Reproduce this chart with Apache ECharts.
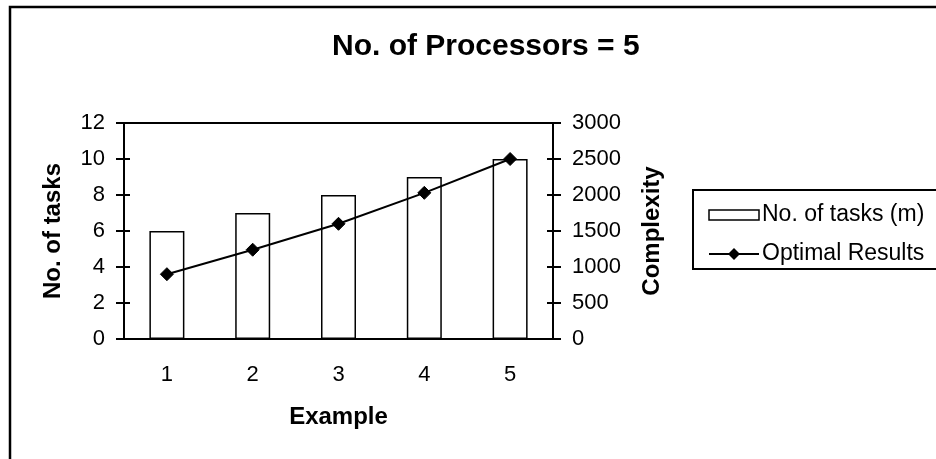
<!DOCTYPE html>
<html>
<head>
<meta charset="utf-8">
<script src="https://cdn.jsdelivr.net/npm/echarts@6/dist/echarts.min.js"></script>
<style>
html,body{margin:0;padding:0;background:#fff;}
#c{width:936px;height:459px;}
</style>
</head>
<body>
<div id="c"></div>
<script>
var categories = ['1', '2', '3', '4', '5'];
var tasks = [6, 7, 8, 9, 10];
var complexity = [900, 1240, 1600, 2030, 2500];
var titleText = 'No. of Processors = 5';
var seriesNames = ['No. of tasks (m)', 'Optimal Results'];

var FONT = '"Liberation Sans", Arial, sans-serif';
var chart = echarts.init(document.getElementById('c'), null, {renderer: 'canvas'});

var lineSt = {color: '#000', width: 2};
function yAx(pos, min, max, interval, inside, name, gap) {
  return {
    type: 'value', position: pos, min: min, max: max, interval: interval,
    name: inside ? '' : name, nameLocation: 'middle', nameGap: gap, nameRotate: 90,
    nameTextStyle: {fontFamily: FONT, fontSize: 24, fontWeight: 'bold', color: '#000'},
    axisLine: {show: !inside, lineStyle: lineSt},
    axisTick: {show: true, inside: inside, length: inside ? 6 : 8, lineStyle: lineSt},
    axisLabel: {show: !inside, fontFamily: FONT, fontSize: 22, color: '#000', margin: inside ? 8 : 19,
      formatter: function (v) { return String(v); }},
    splitLine: {show: false}
  };
}

var option = {
  animation: false,
  backgroundColor: '#fff',
  title: {
    text: titleText, left: 327, top: 27,
    textStyle: {fontFamily: FONT, fontSize: 30, fontWeight: 'bold', color: '#000'}
  },
  grid: {left: 124, right: 383, top: 123, bottom: 120, show: true, borderColor: '#000', borderWidth: 2, backgroundColor: 'transparent'},
  legend: {
    orient: 'vertical', left: 703, top: 197, itemGap: 13,
    itemWidth: 50, itemHeight: 15,
    textStyle: {fontFamily: FONT, fontSize: 23, lineHeight: 26, color: '#000', padding: [0, 0, 0, -2]},
    data: [
      {name: seriesNames[0], icon: 'path://M0,0L0,0M0,2.5L50,2.5L50,12.5L0,12.5Z M50,15L50,15',
       itemStyle: {color: '#fff', borderColor: '#000', borderWidth: 1.5}},
      {name: seriesNames[1]}
    ]
  },
  xAxis: [
    {
      type: 'category', data: categories, position: 'bottom',
      name: 'Example', nameLocation: 'middle', nameGap: 66,
      nameTextStyle: {fontFamily: FONT, fontSize: 24, fontWeight: 'bold', color: '#000'},
      axisLine: {lineStyle: lineSt},
      axisTick: {length: 8, lineStyle: lineSt},
      axisLabel: {fontFamily: FONT, fontSize: 22, color: '#000', margin: 25}
    },
    {
      type: 'category', data: categories, position: 'bottom',
      axisLine: {show: false},
      axisTick: {inside: true, length: 6, lineStyle: lineSt},
      axisLabel: {show: false}
    }
  ],
  yAxis: [
    yAx('left', 0, 12, 2, false, 'No. of tasks', 59),
    yAx('right', 0, 3000, 500, false, 'Complexity', 87),
    yAx('left', 0, 12, 2, true, '', 0),
    yAx('right', 0, 3000, 500, true, '', 0)
  ],
  series: [
    {
      name: seriesNames[0], type: 'bar', data: tasks, barWidth: 35,
      xAxisIndex: 0, yAxisIndex: 0,
      itemStyle: {color: '#fff', borderColor: '#000', borderWidth: 1.5}
    },
    {
      name: seriesNames[1], type: 'line', data: complexity,
      xAxisIndex: 0, yAxisIndex: 1,
      symbol: 'diamond', symbolSize: 13,
      lineStyle: {color: '#000', width: 2},
      itemStyle: {color: '#000', borderColor: '#000'}
    }
  ],
  graphic: [
    {type: 'rect', shape: {x: 10, y: 7, width: 960, height: 480}, style: {fill: 'none', stroke: '#000', lineWidth: 2.5}, z: 100, silent: true},
    {type: 'rect', shape: {x: 693, y: 190, width: 300, height: 79}, style: {fill: 'none', stroke: '#000', lineWidth: 2}, z: 100, silent: true}
  ]
};
chart.setOption(option);
</script>
</body>
</html>
